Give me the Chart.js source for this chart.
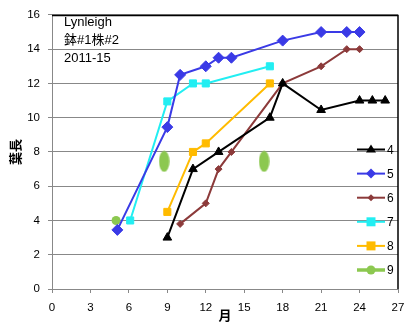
<!DOCTYPE html>
<html>
<head>
<meta charset="utf-8">
<script src="https://cdn.jsdelivr.net/npm/chart.js@4/dist/chart.umd.min.js"></script>
<style>
html,body{margin:0;padding:0;background:#fff;}
#wrap{width:414px;height:328px;position:relative;}
</style>
</head>
<body>
<div id="wrap"><canvas id="c" width="414" height="328"></canvas></div>
<script>
// ---- data ----
const seriesNames = ['4', '5', '6', '7', '8', '9'];
const s4x = [9, 11, 13, 17, 18, 21, 24, 25, 26];
const s4y = [3, 7, 8, 10, 12, 10.45, 11, 11, 11];
const s5x = [5.1, 9, 10, 12, 13, 14, 18, 21, 23, 24];
const s5y = [3.45, 9.45, 12.5, 13, 13.5, 13.5, 14.5, 15, 15, 15];
const s6x = [10, 12, 13, 14, 18, 21, 23, 24];
const s6y = [3.8, 5, 7, 8, 12, 13, 14, 14];
const s7x = [6.1, 9, 11, 12, 17];
const s7y = [4, 10.95, 12, 12, 13];
const s8x = [9, 11, 12, 17];
const s8y = [4.5, 8, 8.5, 12];
const s9x = [5, 8.75, 16.55];
const s9y = [4, 7.45, 7.45];
const xTicks = [0, 3, 6, 9, 12, 15, 18, 21, 24, 27];
const yTicks = [0, 2, 4, 6, 8, 10, 12, 14, 16];
const titleLines = ['Lynleigh', '鉢#1株#2', '2011-15'];
const xTitle = '月';
const yTitle = '葉長';

const colors = {
  '4': '#000000',
  '5': '#3a3ae6',
  '6': '#8c3a3a',
  '7': '#22eef2',
  '8': '#ffbb00',
  '9': '#8cc850'
};

function pts(xs, ys){ return xs.map((x,i)=>({x:x, y:ys[i]})); }

// ellipse marker canvas for the two tall green marks
const ell = document.createElement('canvas');
ell.width = 11; ell.height = 22;
(function(){
  const c = ell.getContext('2d');
  c.fillStyle = colors['9'];
  c.beginPath();
  c.ellipse(5.5, 11, 5.2, 10.5, 0, 0, Math.PI*2);
  c.fill();
})();

const fontFam = '"Liberation Sans", Arial, sans-serif';
const cjkFam = '"Noto Sans CJK JP", "Noto Sans CJK SC", sans-serif';

const datasets = [
  {label:'4', data:pts(s4x,s4y), borderColor:colors['4'], backgroundColor:colors['4'], borderWidth:2,
   pointStyle:'triangle', pointRadius:5, pointBorderWidth:1},
  {label:'5', data:pts(s5x,s5y), borderColor:colors['5'], backgroundColor:colors['5'], borderWidth:2,
   pointStyle:'rectRot', pointRadius:5.5, pointBorderWidth:1},
  {label:'6', data:pts(s6x,s6y), borderColor:colors['6'], backgroundColor:colors['6'], borderWidth:2,
   pointStyle:'rectRot', pointRadius:3.5, pointBorderWidth:1},
  {label:'7', data:pts(s7x,s7y), borderColor:colors['7'], backgroundColor:colors['7'], borderWidth:2,
   pointStyle:'rect', pointRadius:5, pointBorderWidth:1},
  {label:'8', data:pts(s8x,s8y), borderColor:colors['8'], backgroundColor:colors['8'], borderWidth:2,
   pointStyle:'rect', pointRadius:5, pointBorderWidth:1},
  {label:'9', data:pts(s9x,s9y), borderColor:colors['9'], backgroundColor:colors['9'], borderWidth:2,
   showLine:false, pointStyle:['circle', ell, ell], pointRadius:4.5, pointBorderWidth:0}
];

const framePlugin = {
  id:'frame',
  afterDraw(chart){
    const {ctx, chartArea:a} = chart;
    ctx.save();
    ctx.strokeStyle = '#000';
    ctx.lineWidth = 1.5;
    ctx.beginPath();
    ctx.moveTo(a.left, a.top+0.5);
    ctx.lineTo(a.right, a.top+0.5);
    ctx.lineTo(a.right, a.bottom);
    ctx.stroke();
    // title text
    ctx.fillStyle = '#000';
    ctx.textBaseline = 'alphabetic';
    ctx.textAlign = 'left';
    ctx.font = '13px ' + fontFam + ',' + cjkFam;
    titleLines.forEach((t,i)=>{ ctx.fillText(t, 64, 26 + i*18); });
    // legend
    const lx0 = 357, lx1 = 385, mx = 371;
    chart.data.datasets.forEach((ds,i)=>{
      const y = 149.5 + i*24.1;
      ctx.strokeStyle = ds.borderColor;
      ctx.fillStyle = ds.backgroundColor;
      ctx.lineWidth = ds.label === '9' ? 3.5 : 2;
      ctx.beginPath(); ctx.moveTo(lx0, y); ctx.lineTo(lx1, y); ctx.stroke();
      ctx.beginPath();
      const st = ds.label;
      if (st === '4') { ctx.moveTo(mx, y-5); ctx.lineTo(mx+5, y+3); ctx.lineTo(mx-5, y+3); ctx.closePath(); }
      else if (st === '5') { ctx.moveTo(mx, y-5); ctx.lineTo(mx+5, y); ctx.lineTo(mx, y+5); ctx.lineTo(mx-5, y); ctx.closePath(); }
      else if (st === '6') { ctx.moveTo(mx, y-3.5); ctx.lineTo(mx+3.5, y); ctx.lineTo(mx, y+3.5); ctx.lineTo(mx-3.5, y); ctx.closePath(); }
      else if (st === '7' || st === '8') { ctx.rect(mx-4.5, y-4.5, 9, 9); }
      else { ctx.arc(mx, y, 4.5, 0, Math.PI*2); }
      ctx.fill();
      ctx.fillStyle = '#000';
      ctx.font = '12px ' + fontFam;
      ctx.textBaseline = 'middle';
      ctx.fillText(ds.label, 387, y+1);
    });
    ctx.restore();
  }
};

new Chart(document.getElementById('c'), {
  type:'line',
  data:{datasets:datasets},
  plugins:[framePlugin],
  options:{
    responsive:false,
    animation:false,
    devicePixelRatio:1,
    layout:{padding:{top:10, right:16, left:0, bottom:0}},
    plugins:{legend:{display:false}, tooltip:{enabled:false}},
    elements:{line:{tension:0}},
    scales:{
      x:{
        type:'linear', min:0, max:27,
        afterBuildTicks(s){ s.ticks = xTicks.map(v=>({value:v})); },
        afterFit(s){ s.height = 39; },
        grid:{drawOnChartArea:false, drawTicks:true, tickLength:4, color:'#888'},
        border:{color:'#888', width:1},
        ticks:{color:'#000', font:{family:fontFam, size:11.5}, padding:8, maxRotation:0, autoSkip:false},
        title:{display:true, text:xTitle, color:'#000', font:{family:cjkFam, size:13, weight:'bold'}, padding:{top:0,bottom:5}}
      },
      y:{
        type:'linear', min:0, max:16,
        afterBuildTicks(s){ s.ticks = yTicks.map(v=>({value:v})); },
        afterFit(s){ s.width = 52; },
        grid:{color:'#888', tickLength:4, lineWidth:1},
        border:{color:'#888', width:1},
        ticks:{color:'#000', font:{family:fontFam, size:11.5}, padding:8, autoSkip:false},
        title:{display:true, text:yTitle, color:'#000', font:{family:cjkFam, size:13, weight:'bold'}, padding:{top:7,bottom:0}}
      }
    }
  }
});
</script>
</body>
</html>
